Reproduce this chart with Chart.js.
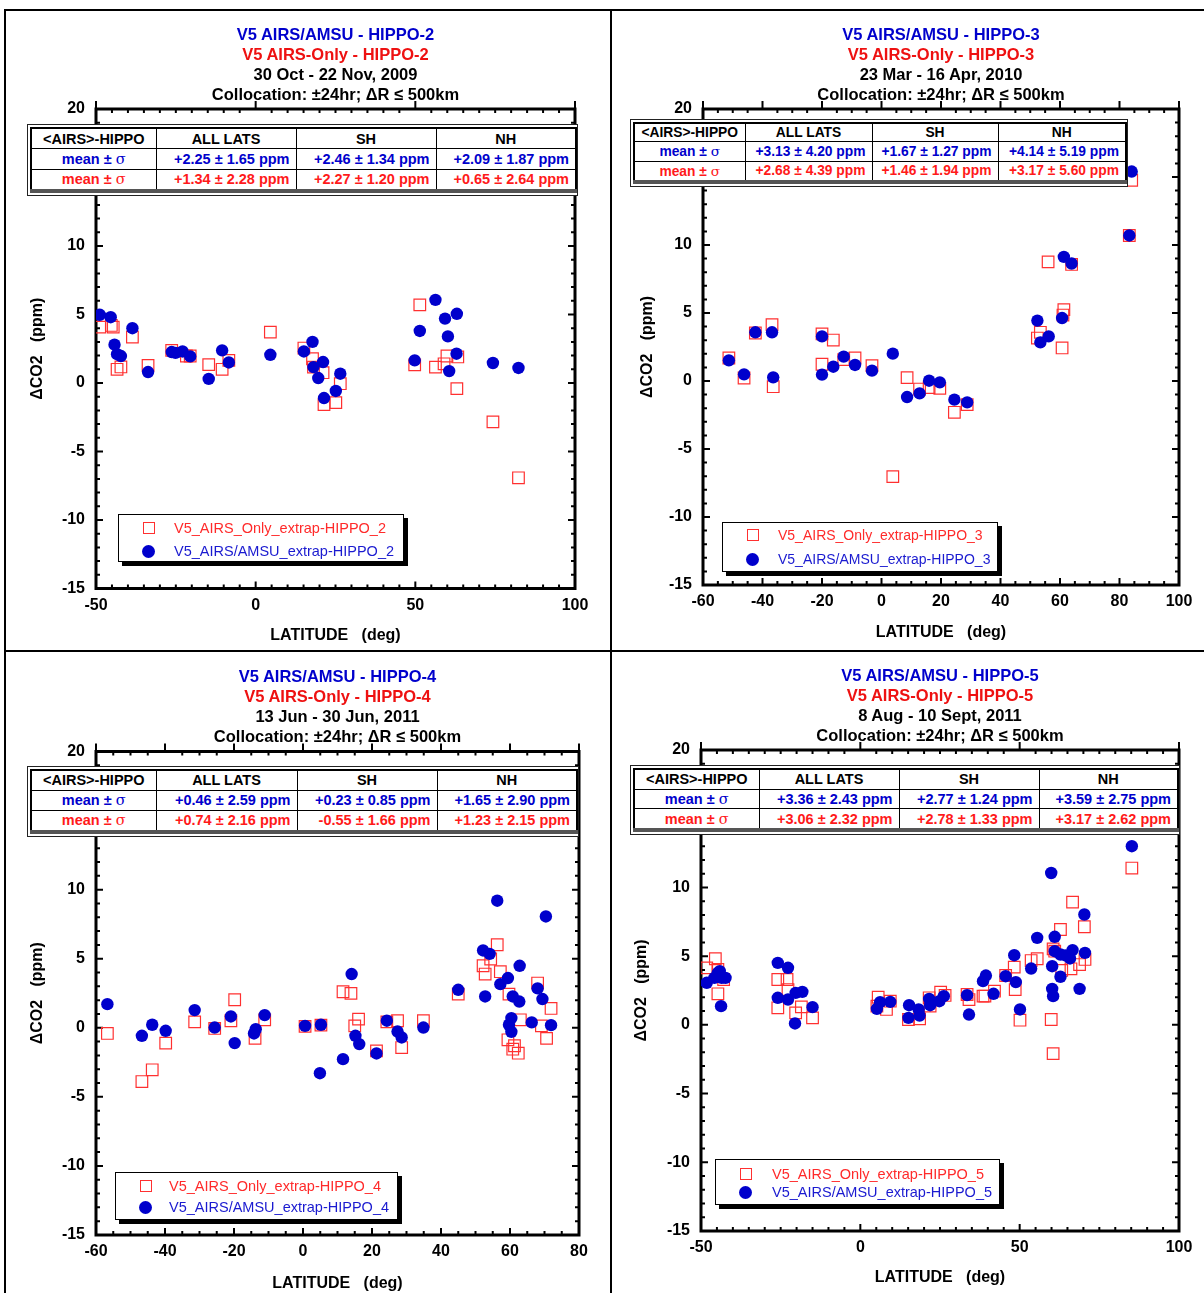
<!DOCTYPE html>
<html>
<head>
<meta charset="utf-8">
<script src="https://cdn.jsdelivr.net/npm/chart.js@4.4.0/dist/chart.umd.min.js"></script>
<style>
  body { margin: 0; width: 1204px; height: 1293px; position: relative; background: #fff; overflow: hidden;
         font-family: "Liberation Sans", Arial, sans-serif; }
  .rule { position: absolute; background: #000; }
  .titles { position: absolute; width: 520px; text-align: center; font-weight: bold; font-size: 16.5px; line-height: 20px; white-space: nowrap; }
  .tbl { position: absolute; background: #fff; border: 1px solid #222; box-sizing: border-box; padding: 2px; }
  .tbl table { width: 100%; height: 100%; border-collapse: collapse; table-layout: fixed; border: 2px solid #000; border-bottom: 4px solid #555; }
  .tbl td { border: 1.5px solid #000; font-weight: bold; padding: 0 6px 0 0; white-space: nowrap; overflow: hidden; text-align: right; }
  .tbl td.c { text-align: center; padding: 0; }
  .tbl .sig { font-family: "DejaVu Serif", serif; font-weight: normal; }
  .legend { position: absolute; background: #fff; border: 1px solid #000; box-shadow: 4px 4px 0 #000; box-sizing: border-box; }
  .legend .row { position: absolute; left: 0; height: 20px; line-height: 20px; white-space: nowrap; }
  .legend .sq { position: absolute; width: 12px; height: 12px; border: 1px solid #ff3030; box-sizing: border-box; top: 4px; }
  .legend .dot { position: absolute; width: 13px; height: 13px; border-radius: 50%; background: #0000cc; top: 4px; }
</style>
</head>
<body>
<div class="rule" style="left:4px;top:9px;width:1200px;height:2px"></div>
<div class="rule" style="left:4px;top:9px;width:2px;height:1284px"></div>
<div class="rule" style="left:610px;top:9px;width:2px;height:1284px"></div>
<div class="rule" style="left:4px;top:650px;width:1200px;height:2px"></div>
<script>
// ---- data ----
const dco2Ticks = [-15, -10, -5, 0, 5, 10, 15, 20];
const latTicksH2 = [-50, 0, 50, 100];
const latTicksH3 = [-60, -40, -20, 0, 20, 40, 60, 80, 100];
const latTicksH4 = [-60, -40, -20, 0, 20, 40, 60, 80];
const latTicksH5 = [-50, 0, 50, 100];

// HIPPO-2
const h2AmsuLat = [-48.8, -45.4, -44.2, -43.4, -42.2, -38.6, -33.7, -26.3, -25.1, -22.9, -20.5, -14.7, -10.5, -8.4, 4.6, 15.1, 17.8, 18.1, 19.6, 21.1, 21.4, 25.1, 26.5, 49.8, 51.4, 56.3, 59.3, 60.2, 63.0, 62.9, 60.6, 74.3, 82.3];
const h2AmsuDco2 = [4.98, 4.8, 2.8, 2.1, 1.97, 4.0, 0.8, 2.26, 2.2, 2.3, 1.94, 0.3, 2.38, 1.5, 2.06, 2.3, 3.0, 1.16, 0.36, 1.53, -1.1, -0.58, 0.68, 1.65, 3.8, 6.07, 4.7, 3.4, 5.05, 2.14, 0.87, 1.46, 1.1];
const h2OnlyLat = [-48.8, -45.2, -44.6, -43.4, -42.2, -38.6, -33.7, -26.3, -21.7, -20.5, -14.7, -10.5, -8.4, 4.6, 15.1, 17.8, 18.1, 21.1, 21.4, 25.1, 26.5, 49.8, 51.4, 56.3, 59.0, 59.9, 63.3, 63.0, 74.3, 82.3];
const h2OnlyDco2 = [4.08, 4.2, 4.08, 1.0, 1.17, 3.35, 1.29, 2.38, 1.97, 1.97, 1.34, 1.0, 1.65, 3.71, 2.55, 1.77, 1.16, 0.75, -1.58, -1.43, -0.05, 1.33, 5.7, 1.16, 1.4, 1.97, 1.9, -0.41, -2.84, -6.92];

// HIPPO-3
const h3AmsuLat = [-51.3, -46.2, -42.4, -36.8, -36.4, -20.0, -20.0, -16.2, -12.7, -8.9, -3.2, 3.8, 8.6, 12.8, 16.0, 19.6, 24.5, 28.8, 52.4, 53.4, 56.2, 60.7, 61.3, 63.9, 83.3, 84.1];
const h3AmsuDco2 = [1.52, 0.49, 3.58, 3.58, 0.27, 3.28, 0.47, 1.05, 1.79, 1.18, 0.76, 2.01, -1.18, -0.91, 0.02, -0.1, -1.37, -1.57, 4.44, 2.84, 3.28, 4.63, 9.13, 8.64, 10.7, 15.4];
const h3OnlyLat = [-51.3, -46.2, -42.4, -36.8, -36.4, -20.0, -20.0, -16.2, -12.7, -8.9, -3.2, 3.8, 8.6, 12.8, 16.0, 19.6, 24.5, 28.8, 52.4, 53.4, 60.7, 61.3, 61.0, 56.0, 63.9, 83.3, 84.1];
const h3OnlyDco2 = [1.69, 0.22, 3.53, 4.14, -0.42, 3.46, 1.23, 3.01, 1.57, 1.69, 1.13, -7.03, 0.25, -0.59, -0.49, -0.54, -2.3, -1.74, 3.16, 3.58, 2.43, 5.25, 4.85, 8.76, 8.57, 10.7, 14.76];

// HIPPO-4
const h4AmsuLat = [-56.7, -46.7, -43.7, -39.8, -31.4, -25.6, -20.9, -19.8, -14.2, -13.7, -11.1, 0.6, 5.2, 4.9, 11.6, 14.1, 15.2, 16.3, 21.3, 24.3, 27.4, 28.6, 34.9, 45.0, 52.2, 54.1, 52.8, 56.3, 57.2, 59.4, 60.8, 62.7, 62.8, 60.4, 59.7, 60.4, 66.3, 68.0, 69.4, 70.4, 71.9];
const h4AmsuDco2 = [1.71, -0.58, 0.22, -0.22, 1.28, 0.02, 0.82, -1.11, -0.41, -0.1, 0.92, 0.14, 0.22, -3.29, -2.27, 3.89, -0.58, -1.18, -1.86, 0.51, -0.27, -0.7, 0.02, 2.75, 5.6, 5.35, 2.27, 9.2, 3.16, 3.6, 2.27, 1.9, 4.49, 0.7, 0.22, -0.29, 0.39, 2.85, 2.08, 8.06, 0.19];
const h4OnlyLat = [-56.7, -46.7, -43.7, -39.8, -31.4, -25.6, -20.9, -19.8, -13.9, -11.1, 0.6, 5.2, 11.6, 13.9, 15.0, 16.1, 21.3, 24.3, 27.4, 28.6, 34.9, 45.0, 52.2, 52.8, 54.4, 56.3, 57.2, 59.7, 59.4, 60.8, 61.3, 62.4, 63.0, 68.0, 69.1, 70.6, 71.9];
const h4OnlyDco2 = [-0.41, -3.89, -3.04, -1.11, 0.43, -0.05, 0.51, 2.03, -0.77, 0.58, 0.1, 0.19, 2.61, 2.49, 0.14, 0.63, -1.67, 0.43, 0.51, -1.43, 0.51, 2.44, 4.49, 3.89, 4.98, 6.01, 4.06, 2.44, -0.87, -1.55, -1.3, -1.84, 0.58, 3.24, 0.14, -0.77, 1.4];

// HIPPO-5
const h5AmsuLat = [-48.2, -45.8, -44.7, -44.1, -43.5, -42.3, -43.7, -25.9, -22.7, -25.9, -22.7, -20.3, -18.2, -20.5, -15.0, 5.2, 6.2, 9.4, 15.3, 15.1, 18.3, 18.6, 21.6, 21.9, 24.8, 26.2, 33.5, 34.1, 38.5, 39.4, 41.8, 45.6, 48.3, 48.8, 50.1, 53.6, 55.5, 59.9, 60.2, 60.2, 60.5, 61.0, 61.0, 62.8, 62.8, 64.4, 65.8, 66.6, 68.8, 70.3, 70.5, 85.2];
const h5AmsuDco2 = [3.06, 3.42, 3.79, 3.91, 3.42, 3.42, 1.36, 4.51, 4.15, 1.97, 1.84, 2.33, 2.4, 0.1, 1.29, 1.17, 1.65, 1.67, 1.43, 0.51, 1.12, 0.68, 1.89, 1.43, 1.72, 2.09, 2.16, 0.75, 3.18, 3.59, 2.26, 3.54, 5.07, 3.11, 1.12, 4.1, 6.33, 11.05, 4.27, 2.62, 2.09, 6.41, 5.36, 5.12, 3.5, 5.05, 4.83, 5.44, 2.62, 8.03, 5.24, 13.0];
const h5OnlyLat = [-48.2, -45.5, -44.7, -42.9, -44.7, -25.9, -23.0, -22.7, -25.9, -20.3, -18.5, -15.0, 5.2, 5.6, 8.2, 9.4, 15.1, 18.6, 21.6, 21.9, 25.2, 26.6, 33.5, 34.1, 38.5, 39.1, 42.1, 45.6, 48.3, 48.6, 50.1, 53.6, 55.5, 59.9, 60.5, 60.5, 61.0, 62.8, 63.2, 66.1, 66.6, 68.8, 70.3, 70.5, 85.2];
const h5OnlyDco2 = [4.15, 4.81, 4.03, 3.3, 2.26, 3.3, 3.3, 2.57, 1.24, 0.87, 1.31, 0.51, 1.36, 2.01, 1.12, 1.72, 0.39, 0.44, 1.97, 1.36, 2.38, 2.14, 2.21, 1.84, 2.09, 2.09, 2.45, 3.59, 4.2, 2.57, 0.34, 4.68, 4.81, 0.39, -2.09, 5.53, 5.36, 6.94, 3.96, 4.08, 8.93, 4.39, 7.14, 4.76, 11.41];

// table text
const statsHead = ['<AIRS>-HIPPO', 'ALL LATS', 'SH', 'NH'];
const h2StatsAmsu = ['+2.25 ± 1.65 ppm', '+2.46 ± 1.34 ppm', '+2.09 ± 1.87 ppm'];
const h2StatsOnly = ['+1.34 ± 2.28 ppm', '+2.27 ± 1.20 ppm', '+0.65 ± 2.64 ppm'];
const h3StatsAmsu = ['+3.13 ± 4.20 ppm', '+1.67 ± 1.27 ppm', '+4.14 ± 5.19 ppm'];
const h3StatsOnly = ['+2.68 ± 4.39 ppm', '+1.46 ± 1.94 ppm', '+3.17 ± 5.60 ppm'];
const h4StatsAmsu = ['+0.46 ± 2.59 ppm', '+0.23 ± 0.85 ppm', '+1.65 ± 2.90 ppm'];
const h4StatsOnly = ['+0.74 ± 2.16 ppm', '-0.55 ± 1.66 ppm', '+1.23 ± 2.15 ppm'];
const h5StatsAmsu = ['+3.36 ± 2.43 ppm', '+2.77 ± 1.24 ppm', '+3.59 ± 2.75 ppm'];
const h5StatsOnly = ['+3.06 ± 2.32 ppm', '+2.78 ± 1.33 ppm', '+3.17 ± 2.62 ppm'];

const BLUE = '#0000cc';
const RED = '#ff3030';
const tickFont = { family: 'Liberation Sans', weight: 'bold', size: 16 };
const axisFont = { family: 'Liberation Sans', weight: 'bold', size: 16 };

// frame with inward minor ticks, top major ticks pointing out
const frameTicks = {
  id: 'frameTicks',
  beforeDatasetsDraw(chart, args, opts) {
    const { ctx, chartArea: a, scales: { x, y } } = chart;
    ctx.save();
    ctx.strokeStyle = '#000';
    ctx.lineWidth = 2;
    const isMajor = (v, step) => Math.abs(v / step - Math.round(v / step)) < 1e-6;
    ctx.beginPath();
    for (let v = x.min; v <= x.max + 1e-9; v += opts.xMinor) {
      const px = x.getPixelForValue(v);
      if (isMajor(v, opts.xMajor)) {
        ctx.moveTo(px, a.top - 8); ctx.lineTo(px, a.top);
        ctx.moveTo(px, a.bottom); ctx.lineTo(px, a.bottom - 7);
      } else {
        ctx.moveTo(px, a.top); ctx.lineTo(px, a.top + 4);
        ctx.moveTo(px, a.bottom); ctx.lineTo(px, a.bottom - 4);
      }
    }
    for (let v = y.min; v <= y.max + 1e-9; v += opts.yMinor) {
      const py = y.getPixelForValue(v);
      const len = isMajor(v, opts.yMajor) ? 7 : 4;
      ctx.moveTo(a.left, py); ctx.lineTo(a.left + len, py);
      ctx.moveTo(a.right, py); ctx.lineTo(a.right - len, py);
    }
    ctx.stroke();
    ctx.lineWidth = 3;
    ctx.strokeRect(a.left, a.top, a.right - a.left, a.bottom - a.top);
    ctx.restore();
  }
};

const toPoints = (lat, val) => lat.map((v, i) => ({ x: v, y: val[i] }));

function buildPanel(p) {
  const [cl, ct, cw, ch] = p.canvas;
  const [al, at, ar, ab] = p.area;
  const c = document.createElement('canvas');
  c.width = cw; c.height = ch;
  c.style.cssText = `position:absolute;left:${cl}px;top:${ct}px;width:${cw}px;height:${ch}px`;
  document.body.appendChild(c);

  new Chart(c, {
    type: 'scatter',
    data: {
      datasets: [
        { label: p.amsuLabel, data: toPoints(p.amsuLat, p.amsuVal), pointStyle: 'circle', pointRadius: 6.2,
          backgroundColor: BLUE, borderColor: BLUE, borderWidth: 0 },
        { label: p.onlyLabel, data: toPoints(p.onlyLat, p.onlyVal), pointStyle: 'rect', pointRadius: 8.2,
          backgroundColor: 'rgba(0,0,0,0)', borderColor: RED, borderWidth: 1.2 }
      ]
    },
    options: {
      responsive: false,
      animation: false,
      events: [],
      layout: { padding: { left: 0, top: at - ct, right: cl + cw - ar, bottom: 0 } },
      plugins: {
        legend: { display: false },
        tooltip: { enabled: false },
        frameTicks: { xMinor: 5, xMajor: p.latTicks[1] - p.latTicks[0], yMinor: 1, yMajor: dco2Ticks[1] - dco2Ticks[0] }
      },
      scales: {
        x: {
          type: 'linear',
          min: p.latTicks[0], max: p.latTicks[p.latTicks.length - 1],
          afterFit: s => { s.height = ct + ch - ab; },
          grid: { display: false, drawTicks: false },
          border: { display: false },
          ticks: { stepSize: p.latTicks[1] - p.latTicks[0], padding: 7, font: tickFont, color: '#000', maxRotation: 0, autoSkip: false },
          title: { display: true, text: 'LATITUDE   (deg)', font: axisFont, color: '#000', padding: { top: 0, bottom: p.xTitlePad } }
        },
        y: {
          type: 'linear',
          min: dco2Ticks[0], max: dco2Ticks[dco2Ticks.length - 1],
          afterFit: s => { s.width = al - cl; },
          grid: { display: false, drawTicks: false },
          border: { display: false },
          ticks: { stepSize: dco2Ticks[1] - dco2Ticks[0], padding: 11, font: tickFont, color: '#000', autoSkip: false },
          title: { display: true, text: 'ΔCO2   (ppm)', font: axisFont, color: '#000', padding: { top: p.yTitlePad, bottom: 0 } }
        }
      }
    },
    plugins: [frameTicks]
  });

  // title block
  const t = document.createElement('div');
  t.className = 'titles';
  t.style.left = ((al + ar) / 2 - 260) + 'px';
  t.style.top = (p.titleTop - 10) + 'px';
  const colors = [BLUE, '#ee1111', '#000', '#000'];
  p.titles.forEach((s, i) => {
    const d = document.createElement('div');
    d.textContent = s;
    d.style.color = colors[i];
    t.appendChild(d);
  });
  document.body.appendChild(t);

  // stats table
  const [tl, tt, tr, tb] = p.table;
  const box = document.createElement('div');
  box.className = 'tbl';
  box.style.cssText = `left:${tl}px;top:${tt}px;width:${tr - tl}px;height:${tb - tt}px`;
  const tbl = document.createElement('table');
  const cg = document.createElement('colgroup');
  const widths = [p.cols[0] - tl - 3, p.cols[1] - p.cols[0], p.cols[2] - p.cols[1], tr - p.cols[2] - 3];
  widths.forEach(w => {
    const col = document.createElement('col');
    col.style.width = w + 'px';
    cg.appendChild(col);
  });
  tbl.appendChild(cg);
  const addRow = (cells, color, isHead) => {
    const tr2 = document.createElement('tr');
    cells.forEach((s, i) => {
      const td = document.createElement('td');
      td.style.color = color;
      td.style.fontSize = p.tableFont + 'px';
      if (isHead || i === 0) td.className = 'c';
      if (!isHead && i === 0) {
        td.innerHTML = 'mean ± <span class="sig">σ</span>';
      } else {
        td.textContent = s;
      }
      tr2.appendChild(td);
    });
    tbl.appendChild(tr2);
  };
  addRow(statsHead, '#000', true);
  addRow(['mean ± σ'].concat(p.statsAmsu), BLUE, false);
  addRow(['mean ± σ'].concat(p.statsOnly), '#ff1a1a', false);
  box.appendChild(tbl);
  document.body.appendChild(box);

  // legend
  const [ll, lt, lr, lb] = p.legend;
  const lg = document.createElement('div');
  lg.className = 'legend';
  lg.style.cssText = `left:${ll}px;top:${lt}px;width:${lr - ll}px;height:${lb - lt}px`;
  const items = [[p.onlyLabel, 'sq', '#ff2a2a'], [p.amsuLabel, 'dot', '#1a1ad0']];
  items.forEach((it, i) => {
    const row = document.createElement('div');
    row.className = 'row';
    row.style.top = (p.legendRows[i] - 10) + 'px';
    row.style.fontSize = p.legendFont + 'px';
    const m = document.createElement('span');
    m.className = it[1];
    m.style.left = (it[1] === 'sq' ? 24 : 23) + 'px';
    const tx = document.createElement('span');
    tx.textContent = it[0];
    tx.style.cssText = `position:absolute;left:${p.legendText}px;color:${it[2]}`;
    row.appendChild(m);
    row.appendChild(tx);
    lg.appendChild(row);
  });
  document.body.appendChild(lg);
}

const panels = [
  { canvas: [6, 11, 604, 639], area: [96, 109, 575, 588.5], latTicks: latTicksH2,
    amsuLat: h2AmsuLat, amsuVal: h2AmsuDco2, onlyLat: h2OnlyLat, onlyVal: h2OnlyDco2,
    amsuLabel: 'V5_AIRS/AMSU_extrap-HIPPO_2', onlyLabel: 'V5_AIRS_Only_extrap-HIPPO_2',
    titles: ['V5 AIRS/AMSU - HIPPO-2', 'V5 AIRS-Only - HIPPO-2', '30 Oct - 22 Nov, 2009', 'Collocation: ±24hr; ΔR ≤ 500km'],
    titleTop: 34, xTitlePad: 4.4, yTitlePad: 22.4,
    table: [27, 124, 578, 196], cols: [155, 295, 435], statsAmsu: h2StatsAmsu, statsOnly: h2StatsOnly, tableFont: 14.5,
    legend: [118, 514, 404, 562], legendRows: [13, 36], legendText: 55, legendFont: 14.5 },
  { canvas: [612, 11, 592, 639], area: [703, 109, 1179, 585], latTicks: latTicksH3,
    amsuLat: h3AmsuLat, amsuVal: h3AmsuDco2, onlyLat: h3OnlyLat, onlyVal: h3OnlyDco2,
    amsuLabel: 'V5_AIRS/AMSU_extrap-HIPPO_3', onlyLabel: 'V5_AIRS_Only_extrap-HIPPO_3',
    titles: ['V5 AIRS/AMSU - HIPPO-3', 'V5 AIRS-Only - HIPPO-3', '23 Mar - 16 Apr, 2010', 'Collocation: ±24hr; ΔR ≤ 500km'],
    titleTop: 34, xTitlePad: 7.4, yTitlePad: 26.4,
    table: [630, 119, 1128, 187], cols: [744, 871, 997], statsAmsu: h3StatsAmsu, statsOnly: h3StatsOnly, tableFont: 13.8,
    legend: [722, 522, 998, 572], legendRows: [12, 36], legendText: 55, legendFont: 14 },
  { canvas: [6, 652, 604, 641], area: [96, 751.5, 579, 1235], latTicks: latTicksH4,
    amsuLat: h4AmsuLat, amsuVal: h4AmsuDco2, onlyLat: h4OnlyLat, onlyVal: h4OnlyDco2,
    amsuLabel: 'V5_AIRS/AMSU_extrap-HIPPO_4', onlyLabel: 'V5_AIRS_Only_extrap-HIPPO_4',
    titles: ['V5 AIRS/AMSU - HIPPO-4', 'V5 AIRS-Only - HIPPO-4', '13 Jun - 30 Jun, 2011', 'Collocation: ±24hr; ΔR ≤ 500km'],
    titleTop: 676, xTitlePad: 0, yTitlePad: 22.4,
    table: [27, 766, 579, 837], cols: [155, 296, 436], statsAmsu: h4StatsAmsu, statsOnly: h4StatsOnly, tableFont: 14.5,
    legend: [115, 1172, 398, 1220], legendRows: [13, 34], legendText: 53, legendFont: 14.5 },
  { canvas: [612, 652, 592, 641], area: [701, 750, 1179, 1231], latTicks: latTicksH5,
    amsuLat: h5AmsuLat, amsuVal: h5AmsuDco2, onlyLat: h5OnlyLat, onlyVal: h5OnlyDco2,
    amsuLabel: 'V5_AIRS/AMSU_extrap-HIPPO_5', onlyLabel: 'V5_AIRS_Only_extrap-HIPPO_5',
    titles: ['V5 AIRS/AMSU - HIPPO-5', 'V5 AIRS-Only - HIPPO-5', '8 Aug - 10 Sept, 2011', 'Collocation: ±24hr; ΔR ≤ 500km'],
    titleTop: 675, xTitlePad: 5.4, yTitlePad: 20.4,
    table: [630, 765, 1180, 835], cols: [758, 898, 1038], statsAmsu: h5StatsAmsu, statsOnly: h5StatsOnly, tableFont: 14.5,
    legend: [715, 1159, 1000, 1205], legendRows: [14, 32], legendText: 56, legendFont: 14.5 }
];

panels.forEach(buildPanel);
</script>
</body>
</html>
